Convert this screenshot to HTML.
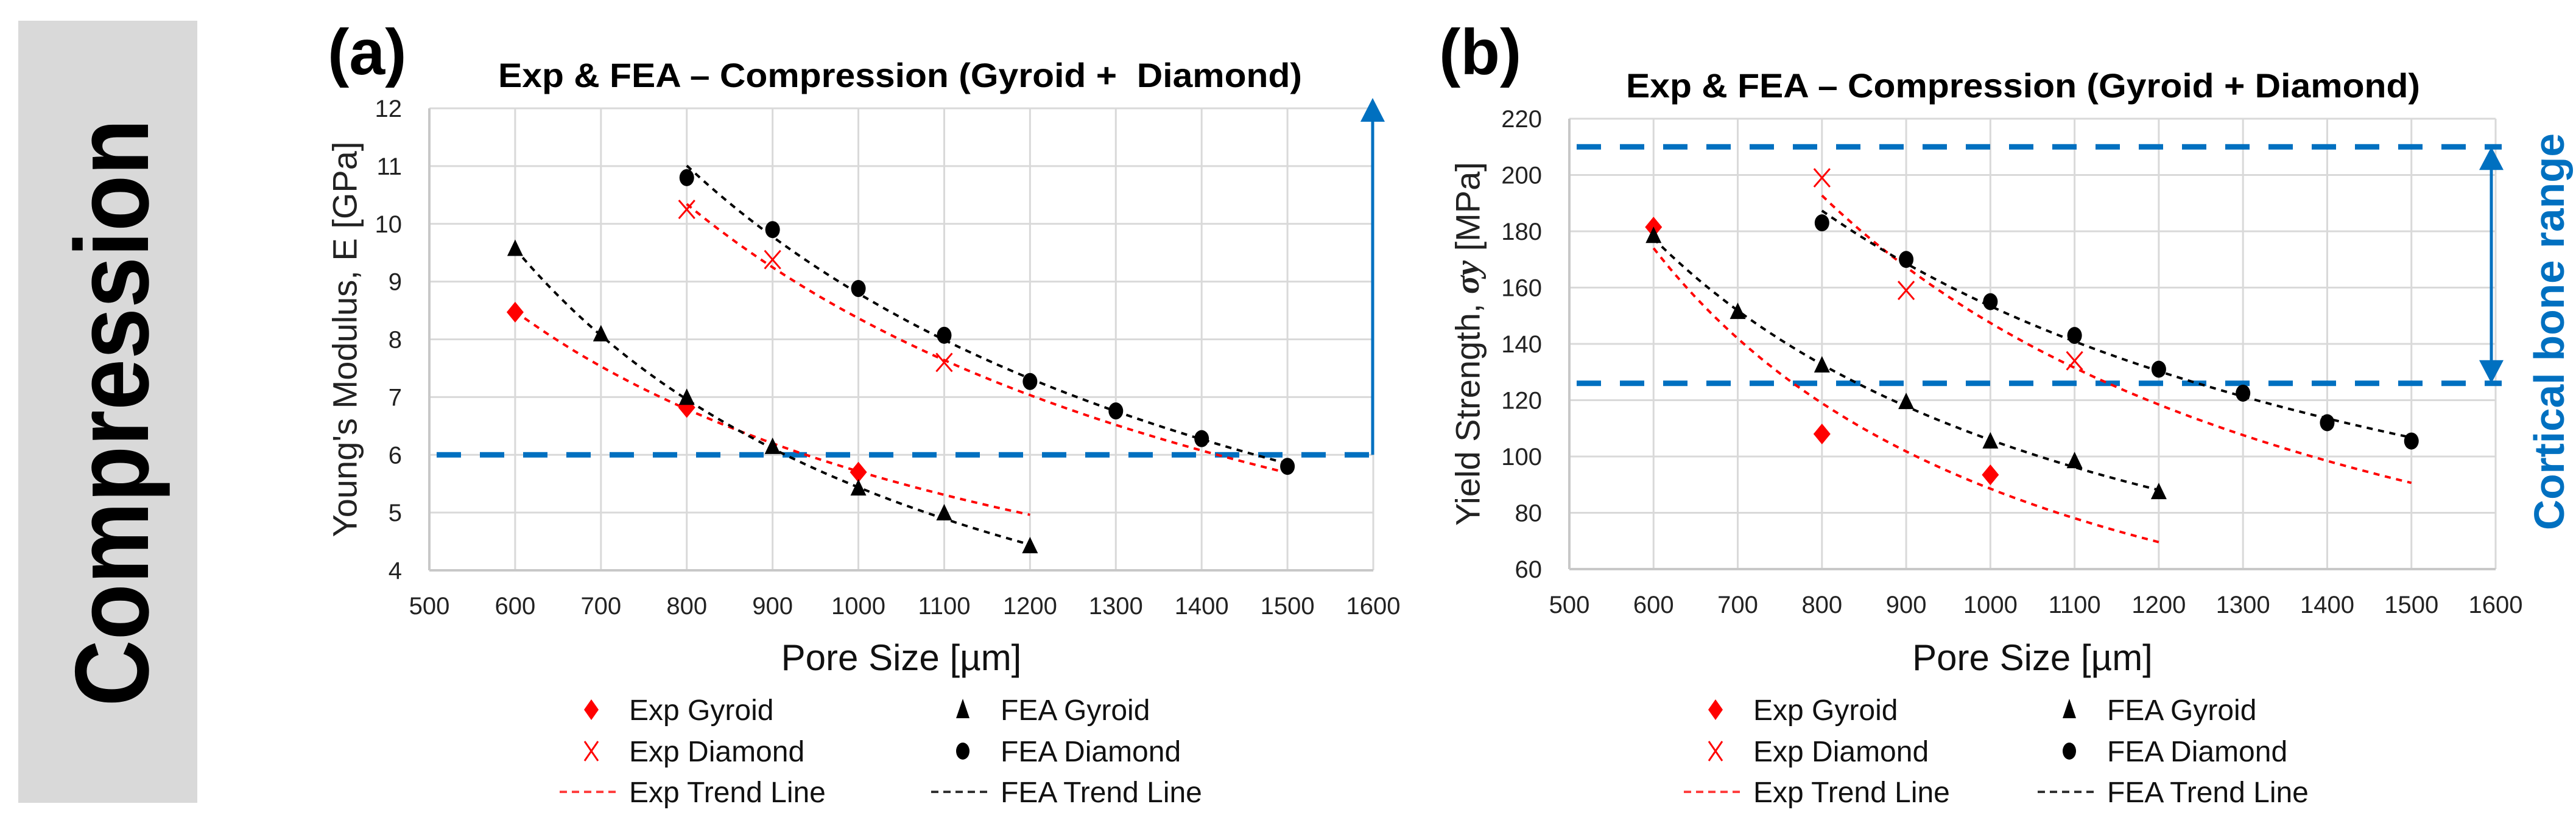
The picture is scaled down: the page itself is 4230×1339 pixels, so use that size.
<!DOCTYPE html>
<html><head><meta charset="utf-8"><style>
html,body{margin:0;padding:0;background:#fff;}
svg{display:block;font-family:"Liberation Sans",sans-serif;}
</style></head><body>
<svg id="fig" width="4230" height="1339" viewBox="0 0 4230 1339" xmlns="http://www.w3.org/2000/svg">
<rect x="30" y="34" width="294" height="1285" fill="#d9d9d9"/>
<text x="184" y="678" transform="rotate(-90 184 678)" text-anchor="middle" dominant-baseline="central" font-size="172" font-weight="bold" textLength="965" lengthAdjust="spacingAndGlyphs">Compression</text>
<g id="chartA"></g>
<g id="chartB"></g>
</svg>
<script>
// X axis categories (pore size)
const xTicks = [500,600,700,800,900,1000,1100,1200,1300,1400,1500,1600];
// Chart (a) Young's modulus [GPa]
const aYTicks = [4,5,6,7,8,9,10,11,12];
const aExpGyroidX = [600,800,1000];
const aExpGyroidY = [8.47,6.82,5.70];
const aExpDiamondX = [800,900,1100];
const aExpDiamondY = [10.25,9.38,7.60];
const aFeaGyroidX = [600,700,800,900,1000,1100,1200];
const aFeaGyroidY = [9.55,8.07,6.97,6.12,5.40,4.97,4.40];
const aFeaDiamondX = [800,900,1000,1100,1200,1300,1400,1500];
const aFeaDiamondY = [10.80,9.90,8.88,8.07,7.27,6.76,6.28,5.80];
const aRefLines = [6];
// Chart (b) Yield strength [MPa]
const bYTicks = [60,80,100,120,140,160,180,200,220];
const bExpGyroidX = [600,800,1000];
const bExpGyroidY = [181.5,108,93.5];
const bExpDiamondX = [800,900,1100];
const bExpDiamondY = [199,159,134];
const bFeaGyroidX = [600,700,800,900,1000,1100,1200];
const bFeaGyroidY = [178,151,132,119,105,98,87];
const bFeaDiamondX = [800,900,1000,1100,1200,1300,1400,1500];
const bFeaDiamondY = [183,170,155,143,131,122.5,112,105.5];
const bRefLines = [210,126];
// trend line ranges [start,end]
const aTrendRanges = {expG:[600,1200], expD:[800,1500], feaG:[600,1200], feaD:[800,1500]};
const bTrendRanges = {expG:[600,1200], expD:[800,1500], feaG:[600,1200], feaD:[800,1500]};

const NS="http://www.w3.org/2000/svg";
function mk(parent,tag,attrs,text){const e=document.createElementNS(NS,tag);for(const k in attrs)e.setAttribute(k,attrs[k]);if(text!==undefined)e.textContent=text;parent.appendChild(e);return e;}
function powerFit(xs,ys){let n=xs.length,sx=0,sy=0,sxx=0,sxy=0;for(let i=0;i<n;i++){const lx=Math.log(xs[i]),ly=Math.log(ys[i]);sx+=lx;sy+=ly;sxx+=lx*lx;sxy+=lx*ly;}const b=(n*sxy-sx*sy)/(n*sxx-sx*sx);const a=(sy-b*sx)/n;return x=>Math.exp(a+b*Math.log(x));}

function drawChart(g,o){
  const X=v=>o.left+(v-500)/1100*(o.right-o.left);
  const Y=v=>o.bottom-(v-o.yMin)/(o.yMax-o.yMin)*(o.bottom-o.top);
  // grid
  xTicks.forEach(t=>{const l=mk(g,'line',{x1:X(t),x2:X(t),y1:o.top,y2:o.bottom,stroke:'#d9d9d9','stroke-width':3});
    
    });
  o.yTicks.forEach(t=>{const l=mk(g,'line',{x1:o.left,x2:o.right,y1:Y(t),y2:Y(t),stroke:'#d9d9d9','stroke-width':3});
    
    });
  const ax=mk(g,'line',{x1:o.left,x2:o.left,y1:o.top,y2:o.bottom,stroke:'#c8c8c8','stroke-width':4});
  
  
  const bx=mk(g,'line',{x1:o.left,x2:o.right,y1:o.bottom,y2:o.bottom,stroke:'#c8c8c8','stroke-width':4});
  
  
  // tick labels
  xTicks.forEach(t=>{const e=mk(g,'text',{x:X(t),y:o.bottom+72,'text-anchor':'middle','font-size':40,fill:'#222'},String(t));
    
    });
  o.yTicks.forEach(t=>{const e=mk(g,'text',{x:o.left-45,y:Y(t)+14,'text-anchor':'end','font-size':40,fill:'#222'},String(t));
    
    });
  // ref lines
  o.refLines.forEach(v=>{const l=mk(g,'line',{x1:o.left+12,x2:o.refEnd,y1:Y(v),y2:Y(v),stroke:'#0070c0','stroke-width':9,'stroke-dasharray':'40 31'});
    
    });
  // trend lines
  const trends=[[o.eGX,o.eGY,o.tr.expG,'#ff0000'],[o.eDX,o.eDY,o.tr.expD,'#ff0000'],[o.fGX,o.fGY,o.tr.feaG,'#000'],[o.fDX,o.fDY,o.tr.feaD,'#000']];
  trends.forEach(([xs,ys,r,c])=>{const f=powerFit(xs,ys);let d='';for(let i=0;i<=60;i++){const x=r[0]+(r[1]-r[0])*i/60;d+=(i?'L':'M')+X(x).toFixed(1)+','+Y(f(x)).toFixed(1);}
    const p=mk(g,'path',{d:d,fill:'none',stroke:c,'stroke-width':4,'stroke-dasharray':'10 9'});
    
    });
  // markers
  o.eGX.forEach((x,i)=>{const cx=X(x),cy=Y(o.eGY[i]);const m=mk(g,'polygon',{points:`${cx},${cy-17} ${cx+14},${cy} ${cx},${cy+17} ${cx-14},${cy}`,fill:'#ff0000'});
    
    });
  o.eDX.forEach((x,i)=>{const cx=X(x),cy=Y(o.eDY[i]);const m=mk(g,'path',{d:`M${cx-13},${cy-15}L${cx+13},${cy+15}M${cx+13},${cy-15}L${cx-13},${cy+15}`,stroke:'#ff0000','stroke-width':3});
    
    });
  o.fGX.forEach((x,i)=>{const cx=X(x),cy=Y(o.fGY[i]);const m=mk(g,'polygon',{points:`${cx},${cy-17} ${cx+13},${cy+10} ${cx-13},${cy+10}`,fill:'#000'});
    
    });
  o.fDX.forEach((x,i)=>{const m=mk(g,'ellipse',{cx:X(x),cy:Y(o.fDY[i]),rx:12,ry:14,fill:'#000'});
    
    });
  // texts
  const pl=mk(g,'text',{x:o.panelX,y:122,'font-size':106,'font-weight':'bold'},o.panel);
  
  
  const tt=mk(g,'text',{x:o.titleX,y:o.titleY,'font-size':56,'font-weight':'bold',textLength:o.titleW,lengthAdjust:'spacingAndGlyphs'},'Exp & FEA \u2013 Compression (Gyroid + '+o.titleSp+'Diamond)');
  
  
  const yt=mk(g,'text',{x:o.yTitleX,y:(o.top+o.bottom)/2,'text-anchor':'middle','dominant-baseline':'central','font-size':56,fill:'#222',transform:`rotate(-90 ${o.yTitleX} ${(o.top+o.bottom)/2})`});
  
  
  o.yTitle(yt);
  const xt=mk(g,'text',{x:(o.left+o.right)/2,y:1101,'text-anchor':'middle','font-size':60,fill:'#111'},'Pore Size [\u00b5m]');
  
  
  // legend
  const L=o.legX, R=o.legX2, rows=[1166,1234,1301];
  const lg=mk(g,'g',{});
  
  
  const labels=[['Exp Gyroid',L,rows[0]],['Exp Diamond',L,rows[1]],['Exp Trend Line',L,rows[2]],['FEA Gyroid',R,rows[0]],['FEA Diamond',R,rows[1]],['FEA Trend Line',R,rows[2]]];
  labels.forEach(([t,x,y])=>{const e=mk(lg,'text',{x:x+62,y:y+17,'font-size':48,fill:'#111'},t);
    
    });
  let cx=L,cy=rows[0];
  mk(lg,'polygon',{points:`${cx},${cy-17} ${cx+12},${cy} ${cx},${cy+17} ${cx-12},${cy}`,fill:'#ff0000'});
  cy=rows[1];
  mk(lg,'path',{d:`M${cx-11},${cy-16}L${cx+11},${cy+16}M${cx+11},${cy-16}L${cx-11},${cy+16}`,stroke:'#ff0000','stroke-width':3});
  mk(lg,'line',{x1:L-52,x2:L+45,y1:rows[2],y2:rows[2],stroke:'#ff4040','stroke-width':4,'stroke-dasharray':'12 8'});
  cx=R;cy=rows[0];
  mk(lg,'polygon',{points:`${cx},${cy-18} ${cx+11},${cy+14} ${cx-11},${cy+14}`,fill:'#000'});
  mk(lg,'ellipse',{cx:R,cy:rows[1],rx:11,ry:14,fill:'#000'});
  mk(lg,'line',{x1:R-52,x2:R+45,y1:rows[2],y2:rows[2],stroke:'#333','stroke-width':4,'stroke-dasharray':'12 8'});
  return {X,Y};
}

const A=drawChart(document.getElementById('chartA'),{left:705,right:2255,top:178,bottom:937,yMin:4,yMax:12,yTicks:aYTicks,refLines:aRefLines,refEnd:2254,
  eGX:aExpGyroidX,eGY:aExpGyroidY,eDX:aExpDiamondX,eDY:aExpDiamondY,fGX:aFeaGyroidX,fGY:aFeaGyroidY,fDX:aFeaDiamondX,fDY:aFeaDiamondY,tr:aTrendRanges,
  panel:'(a)',panelX:538,titleX:818,titleY:143,titleW:1320,titleSp:'\u00a0',yTitleX:566,legX:971,legX2:1581,
  yTitle:t=>{t.textContent="Young's Modulus, E [GPa]";}});
const ga=document.getElementById('chartA');
const arA=mk(ga,'line',{x1:2254,x2:2254,y1:A.Y(aRefLines[0]),y2:190,stroke:'#0070c0','stroke-width':5});


const arAh=mk(ga,'polygon',{points:'2254,161 2274,200 2234,200',fill:'#0070c0'});



const B=drawChart(document.getElementById('chartB'),{left:2577,right:4098,top:195,bottom:935,yMin:60,yMax:220,yTicks:bYTicks,refLines:bRefLines,refEnd:4108,
  eGX:bExpGyroidX,eGY:bExpGyroidY,eDX:bExpDiamondX,eDY:bExpDiamondY,fGX:bFeaGyroidX,fGY:bFeaGyroidY,fDX:bFeaDiamondX,fDY:bFeaDiamondY,tr:bTrendRanges,
  panel:'(b)',panelX:2363,titleX:2670,titleY:160,titleW:1304,titleSp:'',yTitleX:2410,legX:2817,legX2:3398,
  yTitle:t=>{t.appendChild(document.createTextNode('Yield Strength, '));const s=document.createElementNS(NS,'tspan');s.setAttribute('font-family','"Liberation Serif",serif');s.setAttribute('font-style','italic');s.setAttribute('font-weight','bold');s.textContent='\u03c3y';t.appendChild(s);t.appendChild(document.createTextNode(' [MPa]'));}});
const gb=document.getElementById('chartB');
const y1=B.Y(bRefLines[0]), y2=B.Y(bRefLines[1]);
const arB=mk(gb,'line',{x1:4091,x2:4091,y1:y1+30,y2:y2-30,stroke:'#0070c0','stroke-width':5});


const h1=mk(gb,'polygon',{points:`4091,${y1} 4111,${y1+38} 4071,${y1+38}`,fill:'#0070c0'});


const h2=mk(gb,'polygon',{points:`4091,${y2} 4111,${y2-38} 4071,${y2-38}`,fill:'#0070c0'});


const cb=mk(gb,'text',{x:4186,y:545,'text-anchor':'middle','dominant-baseline':'central','font-size':70,'font-weight':'bold',fill:'#0070c0',transform:'rotate(-90 4186 545)',textLength:652,lengthAdjust:'spacingAndGlyphs'},'Cortical bone range');


</script>
</body></html>
